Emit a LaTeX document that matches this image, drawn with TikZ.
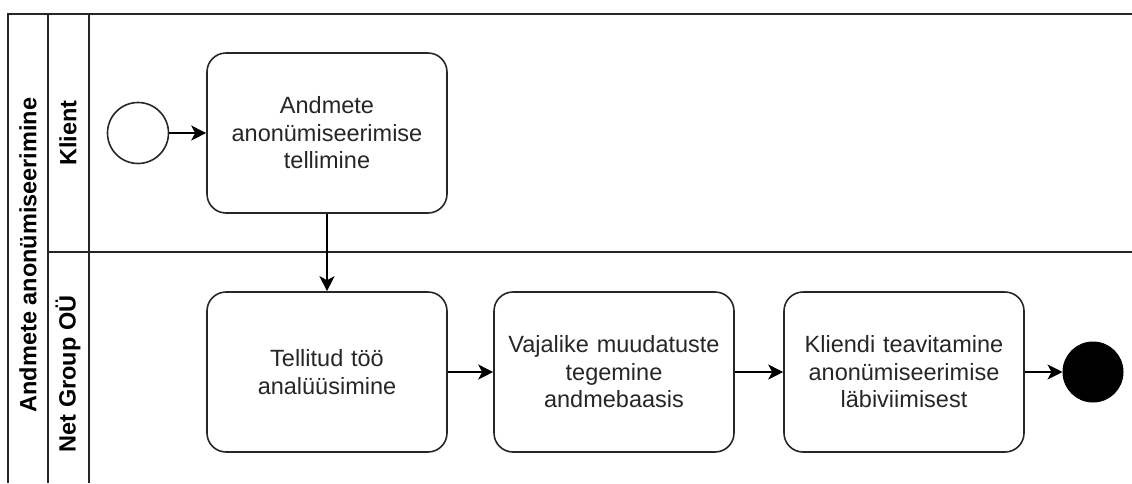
\documentclass[tikz,border=0pt]{standalone}
\usepackage{fontspec}
\setmainfont{Liberation Sans}
\usetikzlibrary{arrows.meta}
\begin{document}
\begin{tikzpicture}[x=1pt,y=-1pt,
  lane/.style={line width=1.6pt,draw=black!85},
  task/.style={draw=black!85,line width=1.6pt,rounded corners=19pt,minimum width=240pt,minimum height=160pt,inner sep=0pt,align=center,font=\fontsize{23.5}{27.5}\selectfont,text width=230pt,text=black!85},
  lbl/.style={font=\fontsize{23.5}{27.5}\selectfont\bfseries,rotate=90},
  flow/.style={line width=1.6pt,draw=black,-{Stealth[length=15pt,width=15pt,inset=4pt]}},
  startev/.style={circle,draw=black!85,line width=1.6pt,minimum size=61pt,inner sep=0pt},
  endev/.style={circle,fill=black,draw=black,line width=1pt,minimum size=60pt,inner sep=0pt}]
\useasboundingbox (0,0) rectangle (1132,483);
% pool and lanes
\draw[lane] (1132,14) -- (8,14) -- (8,483);
\draw[lane] (48,14) -- (48,483);
\draw[lane] (89,14) -- (89,483);
\draw[lane] (48,252) -- (1132,252);
\node[lbl] (pool) at (28,255) {Andmete anonümiseerimine};
\node[lbl] (klient) at (68,133) {Klient};
\node[lbl] (netgroup) at (68,374) {Net Group OÜ};
% events and tasks
\node[startev] (start) at (138,133) {};
\node[task] (t1) at (327,133) {Andmete\\anonümiseerimise\\tellimine};
\node[task] (t2) at (327,372) {Tellitud töö\\analüüsimine};
\node[task] (t3) at (614,372) {Vajalike muudatuste\\tegemine\\andmebaasis};
\node[task] (t4) at (904,372) {Kliendi teavitamine\\anonümiseerimise\\läbiviimisest};
\node[endev] (end) at (1093,372) {};
% flows
\draw[flow] (start) -- (t1);
\draw[flow] (t1) -- (t2);
\draw[flow] (t2) -- (t3);
\draw[flow] (t3) -- (t4);
\draw[flow] (t4) -- (end);
\end{tikzpicture}
\end{document}
